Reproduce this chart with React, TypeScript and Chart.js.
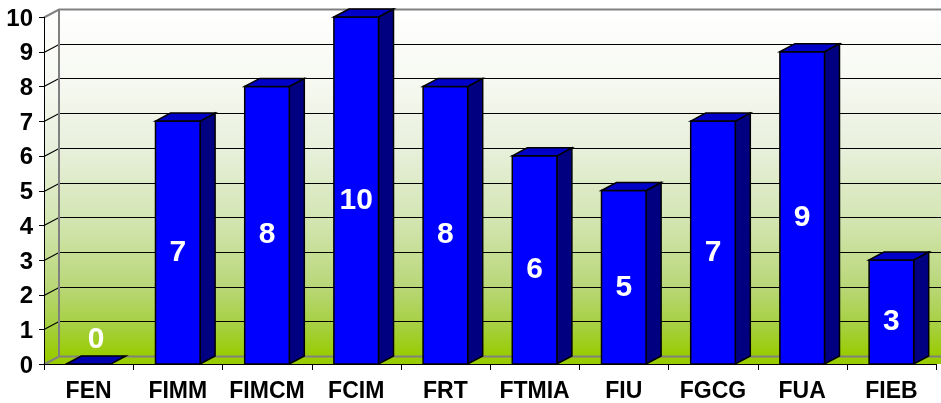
import React, { useEffect, useRef } from "react";
import { Chart, registerables } from "chart.js";

Chart.register(...registerables);

const categories = ["FEN", "FIMM", "FIMCM", "FCIM", "FRT", "FTMIA", "FIU", "FGCG", "FUA", "FIEB"];
const values = [0, 7, 8, 10, 8, 6, 5, 7, 9, 3];
const yMin = 0;
const yMax = 10;
const yStep = 1;

const DX = 15;
const DY = -8;
const FONT = "'Liberation Sans', Arial, sans-serif";

const wallStops: [number, string][] = [
  [0, "rgb(255,255,255)"],
  [0.2, "rgb(247,249,242)"],
  [0.4, "rgb(232,240,220)"],
  [0.6, "rgb(212,230,180)"],
  [0.8, "rgb(185,215,120)"],
  [0.92, "rgb(165,207,60)"],
  [1, "rgb(153,204,0)"],
];

const threeD = {
  id: "threeD",
  beforeDatasetsDraw(chart: any) {
    const { ctx, chartArea: a, scales } = chart;
    const ys = scales.y;
    const L = a.left, R = a.right, T = a.top, B = a.bottom;
    ctx.save();
    const grad = ctx.createLinearGradient(0, T + DY, 0, B + DY);
    wallStops.forEach(([o, c]) => grad.addColorStop(o, c));
    ctx.fillStyle = grad;
    ctx.fillRect(L + DX, T + DY, R - L + 20, B - T);
    ctx.beginPath();
    ctx.moveTo(L, T);
    ctx.lineTo(L + DX, T + DY);
    ctx.lineTo(L + DX, B + DY);
    ctx.lineTo(L, B);
    ctx.closePath();
    ctx.fill();
    ctx.fillStyle = "#99cc00";
    ctx.beginPath();
    ctx.moveTo(L, B);
    ctx.lineTo(L + DX, B + DY);
    ctx.lineTo(R + DX + 20, B + DY);
    ctx.lineTo(R + 20, B);
    ctx.closePath();
    ctx.fill();
    for (let v = yMin; v <= yMax; v += yStep) {
      const py = Math.round(ys.getPixelForValue(v)) + 0.5;
      const edge = v === yMin || v === yMax;
      ctx.strokeStyle = edge ? "#808080" : "#000000";
      ctx.lineWidth = edge ? 2 : 1.2;
      ctx.beginPath();
      ctx.moveTo(L, py);
      ctx.lineTo(L + DX, py + DY);
      ctx.lineTo(R + DX + 20, py + DY);
      ctx.stroke();
      ctx.strokeStyle = "#000000";
      ctx.lineWidth = 1;
      ctx.beginPath();
      ctx.moveTo(L - 5, py);
      ctx.lineTo(L, py);
      ctx.stroke();
    }
    ctx.strokeStyle = "#808080";
    ctx.lineWidth = 2;
    ctx.beginPath();
    ctx.moveTo(L + DX, T + DY);
    ctx.lineTo(L + DX, B + DY);
    ctx.stroke();
    ctx.strokeStyle = "#000000";
    ctx.lineWidth = 1;
    ctx.beginPath();
    ctx.moveTo(L + 0.5, T);
    ctx.lineTo(L + 0.5, B);
    ctx.moveTo(L, B + 0.5);
    ctx.lineTo(R, B + 0.5);
    ctx.stroke();
    const n = categories.length;
    const cw = (R - L) / n;
    ctx.beginPath();
    for (let i = 0; i <= n; i++) {
      const px = Math.round(L + i * cw) + 0.5;
      ctx.moveTo(px, B);
      ctx.lineTo(px, B + 6);
    }
    ctx.stroke();
    ctx.restore();
  },
  afterDatasetsDraw(chart: any) {
    const { ctx } = chart;
    const meta = chart.getDatasetMeta(0);
    ctx.save();
    ctx.lineWidth = 1.5;
    ctx.strokeStyle = "#000000";
    ctx.lineJoin = "miter";
    meta.data.forEach((bar: any, i: number) => {
      const { x, y, base, width } = bar.getProps(["x", "y", "base", "width"], true);
      const l = x - width / 2;
      const r = x + width / 2;
      const v = values[i];
      if (v > 0) {
        ctx.fillStyle = "#000080";
        ctx.beginPath();
        ctx.moveTo(r, y);
        ctx.lineTo(r + DX, y + DY);
        ctx.lineTo(r + DX, base + DY);
        ctx.lineTo(r, base);
        ctx.closePath();
        ctx.fill();
        ctx.stroke();
        ctx.fillStyle = "#0000ff";
        ctx.beginPath();
        ctx.rect(l, y, width, base - y);
        ctx.fill();
        ctx.stroke();
      }
      ctx.fillStyle = v > 0 ? "#0000c8" : "#0000b0";
      ctx.beginPath();
      ctx.moveTo(l, y);
      ctx.lineTo(l + DX, y + DY);
      ctx.lineTo(r + DX, y + DY);
      ctx.lineTo(r, y);
      ctx.closePath();
      ctx.fill();
      ctx.stroke();
    });
    ctx.fillStyle = "#ffffff";
    ctx.font = `bold 30px ${FONT}`;
    ctx.textAlign = "center";
    ctx.textBaseline = "middle";
    meta.data.forEach((bar: any, i: number) => {
      const { x, y, base } = bar.getProps(["x", "y", "base"], true);
      const v = values[i];
      if (v > 0) {
        ctx.fillText(String(v), x, (y + base) / 2 + 10);
      } else {
        ctx.fillText(String(v), x + DX / 2, base - 24);
      }
    });
    ctx.restore();
  },
};

export default function App() {
  const ref = useRef<HTMLCanvasElement | null>(null);
  useEffect(() => {
    if (!ref.current) return;
    const chart = new Chart(ref.current, {
      type: "bar",
      data: {
        labels: categories,
        datasets: [
          {
            data: values,
            backgroundColor: "rgba(0,0,0,0)",
            borderWidth: 0,
            barPercentage: 0.5,
            categoryPercentage: 1,
          },
        ],
      },
      options: {
        responsive: false,
        animation: false,
        devicePixelRatio: 1,
        layout: { padding: { top: 17, right: 5, left: 0, bottom: 0 } },
        plugins: { legend: { display: false }, tooltip: { enabled: false } },
        scales: {
          x: {
            grid: { display: false, drawTicks: false },
            border: { display: false },
            ticks: {
              color: "#000000",
              font: { family: FONT, size: 23, weight: "bold" },
              padding: 14,
              autoSkip: false,
              maxRotation: 0,
            },
            afterFit: (s: any) => {
              s.height = 39;
              s.paddingLeft = 0;
              s.paddingRight = 0;
            },
          },
          y: {
            min: yMin,
            max: yMax,
            grid: { display: false, drawTicks: false },
            border: { display: false },
            ticks: {
              stepSize: yStep,
              color: "#000000",
              font: { family: FONT, size: 24, weight: "bold" },
              padding: 11,
              labelOffset: 2,
            },
            afterFit: (s: any) => {
              s.width = 44;
              s.paddingTop = 0;
              s.paddingBottom = 0;
            },
          },
        },
      },
      plugins: [threeD],
    });
    return () => chart.destroy();
  }, []);
  return (
    <div style={{ position: "fixed", left: 0, top: 0, width: 941, height: 403, background: "#ffffff" }}>
      <canvas ref={ref} width={941} height={403} style={{ display: "block" }} />
    </div>
  );
}
